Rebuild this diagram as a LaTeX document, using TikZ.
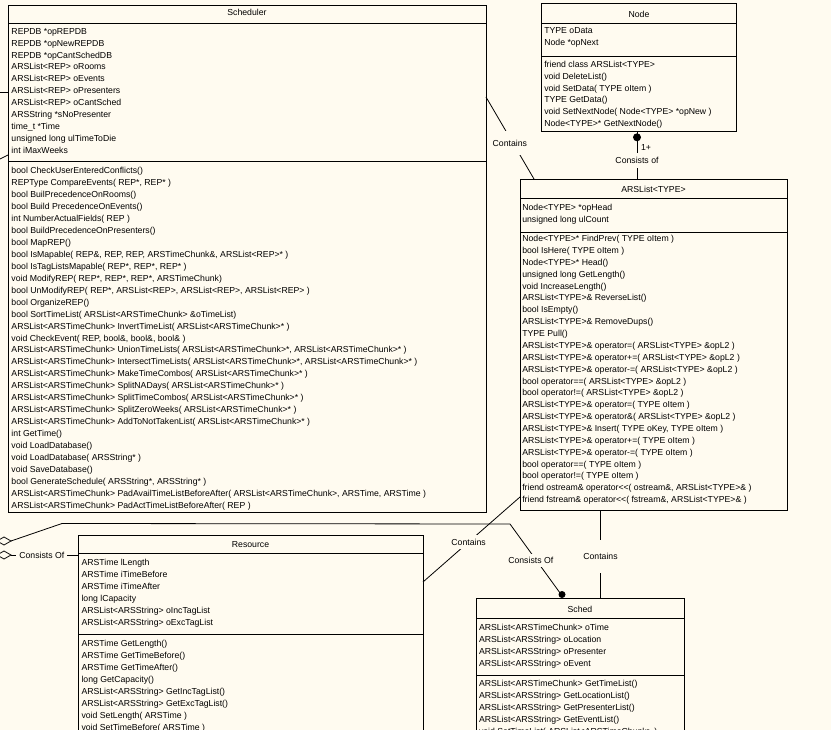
\documentclass[tikz,border=0pt]{standalone}
\usepackage{fontspec}
\setmainfont{Liberation Sans}[Ligatures=TeXOff]
\usetikzlibrary{calc,shapes.geometric}
\definecolor{bg}{RGB}{255,251,240}
\newcommand{\fsz}{\fontsize{8.7}{10}\selectfont}
\begin{document}
\begin{tikzpicture}[x=1pt,y=-1pt,
  box/.style={draw=black, fill=bg, line width=0.8pt, inner sep=0pt, outer sep=0pt, anchor=north west},
  txt/.style={inner sep=0pt, outer sep=0pt, anchor=base west, font=\fsz},
  ttl/.style={inner sep=0pt, outer sep=0pt, anchor=base, font=\fsz},
  lbl/.style={fill=bg, inner sep=2pt, font=\fsz},
  conn/.style={draw=black, line width=0.8pt},
  sepl/.style={draw=black, line width=0.8pt},
  agg/.style={diamond, draw=black, fill=bg, line width=0.8pt, minimum width=14pt, minimum height=8pt, inner sep=0pt, outer sep=0pt}]
\fill[bg] (0,0) rectangle (831,730);
\useasboundingbox (0,0) rectangle (831,730);
\clip (0,0) rectangle (831,730);

% ---------------- Scheduler ----------------
\node[box, minimum width=478pt, minimum height=507pt] (sch) at (8,5) {};
\draw[sepl] ($(sch.north west)+(0,18)$) -- ($(sch.north east)+(0,18)$);
\draw[sepl] ($(sch.north west)+(0,156.5)$) -- ($(sch.north east)+(0,156.5)$);
\node[ttl] (schT) at (247,16) {Scheduler};
\foreach \t [count=\i from 0] in {{REPDB *opREPDB},{REPDB *opNewREPDB},{REPDB *opCantSchedDB},{ARSList<REP> oRooms},{ARSList<REP> oEvents},{ARSList<REP> oPresenters},{ARSList<REP> oCantSched},{ARSString *sNoPresenter},{time\_t *Time},{unsigned long ulTimeToDie},{int iMaxWeeks}}
  \node[txt] (schA\i) at (11.5,{34.3+11.9*\i}) {\t};
\foreach \t [count=\i from 0] in {{bool CheckUserEnteredConflicts()},{REPType CompareEvents( REP*, REP* )},{bool BuilPrecedenceOnRooms()},{bool Build PrecedenceOnEvents()},{int NumberActualFields( REP )},{bool BuildPrecedenceOnPresenters()},{bool MapREP()},{bool IsMapable( REP\&, REP, REP, ARSTimeChunk\&, ARSList<REP>* )},{bool IsTagListsMapable( REP*, REP*, REP* )},{void ModifyREP( REP*, REP*, REP*, ARSTimeChunk)},{bool UnModifyREP( REP*, ARSList<REP>, ARSList<REP>, ARSList<REP> )},{bool OrganizeREP()},{bool SortTimeList( ARSList<ARSTimeChunk> \&oTimeList)},{ARSList<ARSTimeChunk> InvertTimeList( ARSList<ARSTimeChunk>* )},{void CheckEvent( REP, bool\&, bool\&, bool\& )},{ARSList<ARSTimeChunk> UnionTimeLists( ARSList<ARSTimeChunk>*, ARSList<ARSTimeChunk>* )},{ARSList<ARSTimeChunk> IntersectTimeLists( ARSList<ARSTimeChunk>*, ARSList<ARSTimeChunk>* )},{ARSList<ARSTimeChunk> MakeTimeCombos( ARSList<ARSTimeChunk>* )},{ARSList<ARSTimeChunk> SplitNADays( ARSList<ARSTimeChunk>* )},{ARSList<ARSTimeChunk> SplitTimeCombos( ARSList<ARSTimeChunk>* )},{ARSList<ARSTimeChunk> SplitZeroWeeks( ARSList<ARSTimeChunk>* )},{ARSList<ARSTimeChunk> AddToNotTakenList( ARSList<ARSTimeChunk>* )},{int GetTime()},{void LoadDatabase()},{void LoadDatabase( ARSString* )},{void SaveDatabase()},{bool GenerateSchedule( ARSString*, ARSString* )},{ARSList<ARSTimeChunk> PadAvailTimeListBeforeAfter( ARSList<ARSTimeChunk>, ARSTime, ARSTime )},{ARSList<ARSTimeChunk> PadActTimeListBeforeAfter( REP )}}
  \node[txt] (schM\i) at (11.5,{174+11.93*\i}) {\t};

% ---------------- Node ----------------
\node[box, minimum width=194.5pt, minimum height=128pt] (nd) at (541.5,3.5) {};
\draw[sepl] ($(nd.north west)+(0,19.5)$) -- ($(nd.north east)+(0,19.5)$);
\draw[sepl] ($(nd.north west)+(0,52.5)$) -- ($(nd.north east)+(0,52.5)$);
\node[ttl] (ndT) at (639,17.3) {Node};
\foreach \t [count=\i from 0] in {{TYPE oData},{Node *opNext}}
  \node[txt] (ndA\i) at (544.3,{34+11.9*\i}) {\t};
\foreach \t [count=\i from 0] in {{friend class ARSList<TYPE>},{void DeleteList()},{void SetData( TYPE oItem )},{TYPE GetData()},{void SetNextNode( Node<TYPE> *opNew )},{Node<TYPE>* GetNextNode()}}
  \node[txt] (ndM\i) at (544.3,{67.3+11.9*\i}) {\t};

% ---------------- ARSList ----------------
\node[box, minimum width=267pt, minimum height=331pt] (arsl) at (520,179) {};
\draw[sepl] ($(arsl.north west)+(0,19)$) -- ($(arsl.north east)+(0,19)$);
\draw[sepl] ($(arsl.north west)+(0,53)$) -- ($(arsl.north east)+(0,53)$);
\node[ttl] (arslT) at (653.5,192.3) {ARSList<TYPE>};
\foreach \t [count=\i from 0] in {{Node<TYPE> *opHead},{unsigned long ulCount}}
  \node[txt] (arslA\i) at (522.3,{210.5+11.9*\i}) {\t};
\foreach \t [count=\i from 0] in {{Node<TYPE>* FindPrev( TYPE oItem )},{bool IsHere( TYPE oItem )},{Node<TYPE>* Head()},{unsigned long GetLength()},{void IncreaseLength()},{ARSList<TYPE>\& ReverseList()},{bool IsEmpty()},{ARSList<TYPE>\& RemoveDups()},{TYPE Pull()},{ARSList<TYPE>\& operator=( ARSList<TYPE> \&opL2 )},{ARSList<TYPE>\& operator+=( ARSList<TYPE> \&opL2 )},{ARSList<TYPE>\& operator-=( ARSList<TYPE> \&opL2 )},{bool operator==( ARSList<TYPE> \&opL2 )},{bool operator!=( ARSList<TYPE> \&opL2 )},{ARSList<TYPE>\& operator=( TYPE oItem )},{ARSList<TYPE>\& operator\&( ARSList<TYPE> \&opL2 )},{ARSList<TYPE>\& Insert( TYPE oKey, TYPE oItem )},{ARSList<TYPE>\& operator+=( TYPE oItem )},{ARSList<TYPE>\& operator-=( TYPE oItem )},{bool operator==( TYPE oItem )},{bool operator!=( TYPE oItem )},{friend ostream\& operator<<( ostream\&, ARSList<TYPE>\& )},{friend fstream\& operator<<( fstream\&, ARSList<TYPE>\& )}}
  \node[txt] (arslM\i) at (522.3,{241.7+11.86*\i}) {\t};

% ---------------- Resource ----------------
\node[box, minimum width=345pt, minimum height=215pt] (res) at (78,535) {};
\draw[sepl] ($(res.north west)+(0,18.3)$) -- ($(res.north east)+(0,18.3)$);
\draw[sepl] ($(res.north west)+(0,99.3)$) -- ($(res.north east)+(0,99.3)$);
\node[ttl] (resT) at (250.5,547.3) {Resource};
\foreach \t [count=\i from 0] in {{ARSTime lLength},{ARSTime iTimeBefore},{ARSTime iTimeAfter},{long lCapacity},{ARSList<ARSString> oIncTagList},{ARSList<ARSString> oExcTagList}}
  \node[txt] (resA\i) at (81.5,{565.5+12.04*\i}) {\t};
\foreach \t [count=\i from 0] in {{ARSTime GetLength()},{ARSTime GetTimeBefore()},{ARSTime GetTimeAfter()},{long GetCapacity()},{ARSList<ARSString> GetIncTagList()},{ARSList<ARSString> GetExcTagList()},{void SetLength( ARSTime )},{void SetTimeBefore( ARSTime )}}
  \node[txt] (resM\i) at (81.5,{646.5+12*\i}) {\t};

% ---------------- Sched ----------------
\node[box, minimum width=208pt, minimum height=150pt] (sd) at (476,598) {};
\draw[sepl] ($(sd.north west)+(0,20)$) -- ($(sd.north east)+(0,20)$);
\draw[sepl] ($(sd.north west)+(0,77)$) -- ($(sd.north east)+(0,77)$);
\node[ttl] (sdT) at (580,612.3) {Sched};
\foreach \t [count=\i from 0] in {{ARSList<ARSTimeChunk> oTime},{ARSList<ARSString> oLocation},{ARSList<ARSString> oPresenter},{ARSList<ARSString> oEvent}}
  \node[txt] (sdA\i) at (479,{630+12*\i}) {\t};
\foreach \t [count=\i from 0] in {{ARSList<ARSTimeChunk> GetTimeList()},{ARSList<ARSString> GetLocationList()},{ARSList<ARSString> GetPresenterList()},{ARSList<ARSString> GetEventList()},{void SetTimeList( ARSList<ARSTimeChunk> )}}
  \node[txt] (sdM\i) at (479,{686.7+12*\i}) {\t};

% ---------------- connectors ----------------
\coordinate (offA) at (-10,92);
\coordinate (offB) at (-10,164);
\draw[conn] (offA) -- (sch.west |- offA);
\draw[conn] (offB) -- ($(sch.north west)+(0,150)$);

% Scheduler -> ARSList : Contains
\draw[conn] ($(sch.north east)+(0,92)$) -- node[lbl, pos=0.56, inner xsep=1pt, inner ysep=9pt, xshift=-3pt] (lc2) {Contains} ($(arsl.north west)+(14,0)$);

% Node -> ARSList : Consists of
\draw[conn] ($(nd.south west)+(95.5,0)$) -- node[lbl, pos=0.61, inner xsep=1pt, inner ysep=4pt] (lc1) {Consists of} ($(arsl.north west)+(117,0)$);
\fill ($(nd.south west)+(95.5,5.8)$) circle[radius=4pt];
\node[txt] (lc1n) at (641,150.7) {1+};

% ARSList -> Sched : Contains
\draw[conn] ($(arsl.south west)+(80.5,0)$) -- node[lbl, pos=0.53, inner xsep=1pt, inner ysep=13pt] (lc3) {Contains} ($(sd.north west)+(124.5,0)$);

% Resource -> ARSList : Contains
\draw[conn] ($(res.north east)+(0,47)$) -- node[lbl, pos=0.47, inner sep=4pt] (lc4) {Contains} ($(arsl.south west)+(0,-13)$);

% aggregation -> Sched : Consists Of
\node[agg] (dm1) at (4,541) {};
\coordinate (b1) at (62,523.5);
\coordinate (b2) at (510,524);
\draw[conn] (dm1.east) -- (b1) -- (b2) -- node[lbl, pos=0.5, inner sep=3pt, xshift=-5pt, yshift=-1pt] (lc5) {Consists Of} ($(sd.north west)+(85.5,-3)$);
\fill ($(sd.north west)+(86,-3.5)$) circle[radius=3.5pt];

% aggregation -> Resource : Consists Of
\node[agg] (dm2) at (4,555) {};
\draw[conn] (dm2.east) -- node[lbl, pos=0.46, inner xsep=3pt, inner ysep=1pt] (lc6) {Consists Of} (res.west |- dm2);
\end{tikzpicture}
\end{document}
